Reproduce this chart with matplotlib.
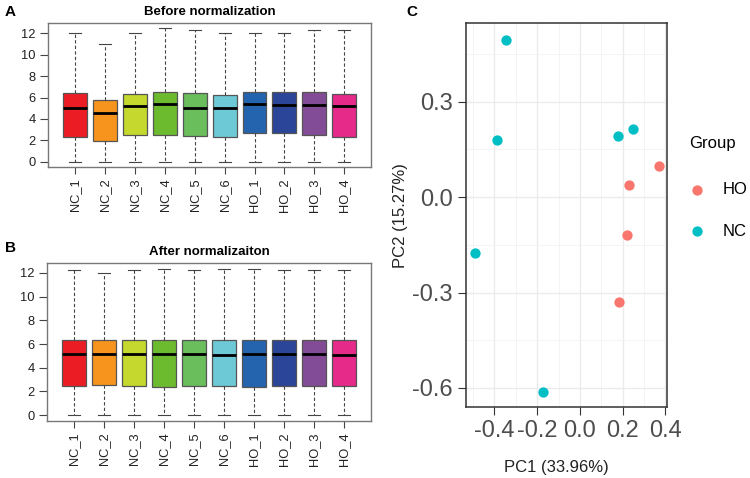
import matplotlib
matplotlib.use("Agg")
import matplotlib.pyplot as plt
import numpy as np

plt.rcParams['font.family'] = ['Liberation Sans', 'DejaVu Sans']

samples = ['NC_1', 'NC_2', 'NC_3', 'NC_4', 'NC_5', 'NC_6', 'HO_1', 'HO_2', 'HO_3', 'HO_4']
box_colors = ['#EC1C24', '#F7941D', '#C5D82E', '#6CBA2E', '#6ABE5C', '#6DC9D5',
              '#2463AE', '#2B4699', '#834C97', '#E62A89']

# before normalization: whisker low, Q1, median, Q3, whisker high
before_lo = [0, 0, 0, 0, 0, 0, 0, 0, 0, 0]
before_q1 = [2.33, 1.98, 2.51, 2.51, 2.45, 2.33, 2.70, 2.70, 2.51, 2.33]
before_med = [5.02, 4.53, 5.18, 5.40, 5.02, 5.02, 5.40, 5.33, 5.33, 5.18]
before_q3 = [6.42, 5.80, 6.36, 6.54, 6.42, 6.23, 6.51, 6.51, 6.48, 6.33]
before_hi = [12.0, 11.04, 12.0, 12.47, 12.28, 12.09, 12.0, 12.0, 12.28, 12.37]

# after normalization
after_lo = [0, 0, 0, 0, 0, 0, 0, 0, 0, 0]
after_q1 = [2.43, 2.54, 2.43, 2.37, 2.48, 2.43, 2.37, 2.43, 2.43, 2.48]
after_med = [5.16, 5.16, 5.16, 5.16, 5.16, 5.08, 5.16, 5.16, 5.16, 5.08]
after_q3 = [6.34, 6.34, 6.34, 6.34, 6.34, 6.34, 6.34, 6.34, 6.34, 6.34]
after_hi = [12.25, 12.0, 12.25, 12.34, 12.25, 12.34, 12.34, 12.25, 12.25, 12.25]

# PCA
ho_pc1 = [0.370, 0.231, 0.218, 0.181]
ho_pc2 = [0.097, 0.037, -0.119, -0.330]
nc_pc1 = [-0.345, -0.390, 0.179, 0.249, -0.491, -0.172]
nc_pc2 = [0.493, 0.181, 0.192, 0.214, -0.177, -0.612]


def box_panel(ax, lo, q1, med, q3, hi, title):
    stats = []
    for i in range(len(samples)):
        stats.append({'whislo': lo[i], 'q1': q1[i], 'med': med[i], 'q3': q3[i],
                      'whishi': hi[i], 'fliers': [], 'label': samples[i]})
    pos = np.arange(1, len(samples) + 1)
    b = ax.bxp(stats, positions=pos, widths=0.8, patch_artist=True, showfliers=False,
               boxprops=dict(edgecolor='#555555', linewidth=0.9),
               whiskerprops=dict(color='#444444', linestyle=(0, (3, 2)), linewidth=0.8),
               capprops=dict(color='#444444', linewidth=0.8),
               medianprops=dict(color='black', linewidth=2.0),
               capwidths=0.4)
    for patch, c in zip(b['boxes'], box_colors):
        patch.set_facecolor(c)
    top = max(hi)
    ext = 0.04 * top
    ax.set_ylim(-ext, top + ext)
    ax.set_xlim(0.1, len(samples) + 0.9)
    ax.set_yticks([0, 2, 4, 6, 8, 10, 12])
    ax.set_xticks(pos)
    ax.set_xticklabels(samples, rotation=90, fontsize=9.3, color='#222222')
    ax.tick_params(axis='y', labelsize=9.3, labelcolor='#222222', length=6, color='#444444', pad=3)
    ax.tick_params(axis='x', length=5, color='#444444', pad=3)
    for s in ax.spines.values():
        s.set_color('#777777')
        s.set_linewidth(1.0)
    ax.set_title(title, fontsize=9.5, fontweight='bold', pad=6)


fig = plt.figure(figsize=(7.5, 4.78), dpi=100)

axA = fig.add_axes([0.064, 0.6506, 0.431, 0.301])
box_panel(axA, before_lo, before_q1, before_med, before_q3, before_hi, 'Before normalization')
fig.text(0.006, 0.975, 'A', fontsize=11, fontweight='bold', va='center')

axB = fig.add_axes([0.0627, 0.1192, 0.432, 0.3305])
box_panel(axB, after_lo, after_q1, after_med, after_q3, after_hi, 'After normalizaiton')
fig.text(0.006, 0.481, 'B', fontsize=11, fontweight='bold', va='center')

axC = fig.add_axes([0.6213, 0.1485, 0.268, 0.803])
axC.scatter(ho_pc1, ho_pc2, s=55, color='#F8766D', label='HO', zorder=3, linewidths=0)
axC.scatter(nc_pc1, nc_pc2, s=55, color='#00BFC4', label='NC', zorder=3, linewidths=0)
axC.set_xlim(-0.533, 0.407)
axC.set_ylim(-0.66, 0.547)
axC.set_xticks([-0.4, -0.2, 0.0, 0.2, 0.4])
axC.set_xticklabels(['-0.4', '-0.2', '0.0', '0.2', '0.4'])
axC.set_yticks([-0.6, -0.3, 0.0, 0.3])
axC.set_yticklabels(['-0.6', '-0.3', '0.0', '0.3'])
axC.set_xticks([-0.5, -0.3, -0.1, 0.1, 0.3], minor=True)
axC.set_yticks([-0.45, -0.15, 0.15, 0.45], minor=True)
axC.grid(True, which='major', color='#EBEBEB', linewidth=1.0)
axC.grid(True, which='minor', color='#F2F2F2', linewidth=0.6)
axC.set_axisbelow(True)
axC.tick_params(which='major', labelsize=17, labelcolor='#4D4D4D', length=5.5, color='#333333', pad=4)
axC.tick_params(which='minor', length=0)
for s in axC.spines.values():
    s.set_color('#333333')
    s.set_linewidth(1.1)
axC.set_xlabel('PC1 (33.96%)', fontsize=12, color='#222222')
axC.set_ylabel('PC2 (15.27%)', fontsize=12, color='#222222')
axC.xaxis.set_label_coords(0.45, -0.138)
axC.yaxis.set_label_coords(-0.29, 0.5)
fig.text(0.542, 0.975, 'C', fontsize=11, fontweight='bold', va='center')

leg = axC.legend(title='Group', loc='upper left', bbox_to_anchor=(1.11, 0.705),
                 frameon=False, fontsize=12, title_fontsize=12,
                 handlelength=1.0, handletextpad=1.0, labelspacing=1.6,
                 borderaxespad=0, borderpad=0)
leg._legend_box.align = 'left'
leg._legend_box.sep = 22

fig.savefig('out.png', dpi=100)
